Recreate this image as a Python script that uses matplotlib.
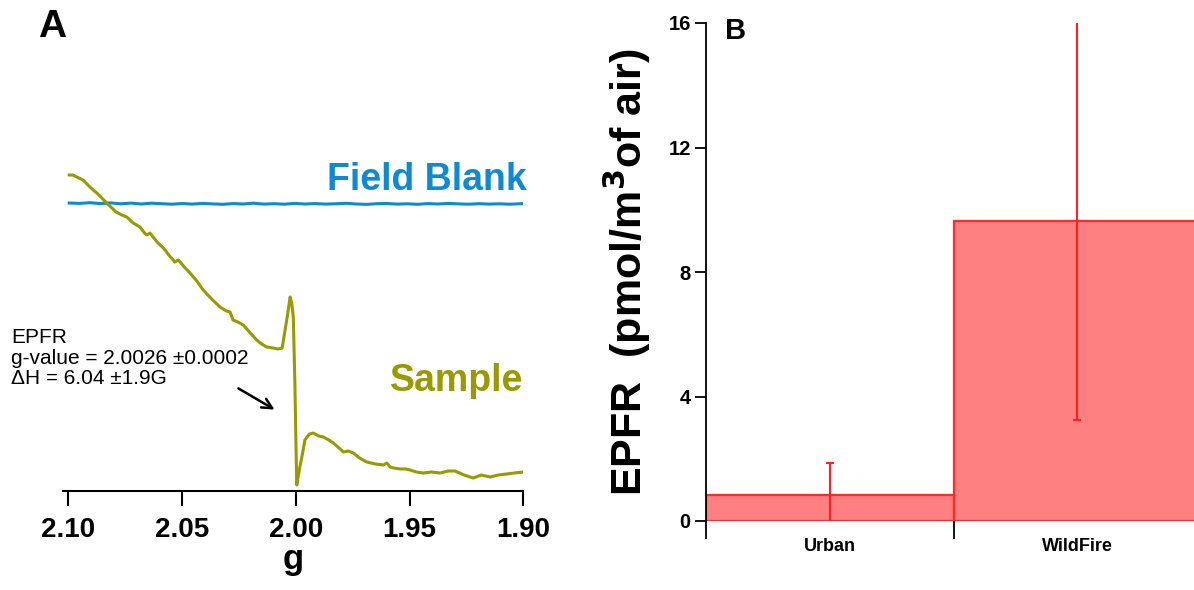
import numpy as np
import matplotlib.pyplot as plt
from matplotlib.ticker import FixedLocator

plt.rcParams['font.family'] = ['Liberation Sans', 'DejaVu Sans']

# panel A: EPR spectra (arbitrary intensity units)
sample_g = [2.0996, 2.0980, 2.0963, 2.0935, 2.0905, 2.0870, 2.0831, 2.0790, 2.0765,
            2.0743, 2.0715, 2.0685, 2.0665, 2.0655, 2.0641, 2.0610, 2.0582, 2.0555,
            2.0531, 2.0516, 2.0490, 2.0465, 2.0435, 2.0407, 2.0370, 2.0333, 2.0305,
            2.0289, 2.0276, 2.0255, 2.0231, 2.0200, 2.0172, 2.0150, 2.0128, 2.0100,
            2.0077, 2.0060, 2.0047, 2.0035, 2.0025, 2.0018, 2.0011, 2.0004, 1.9996,
            1.9989, 1.9982, 1.9970, 1.9960, 1.9940, 1.9923, 1.9900, 1.9879, 1.9855,
            1.9835, 1.9810, 1.9791, 1.9770, 1.9747, 1.9720, 1.9688, 1.9650, 1.9615,
            1.9600, 1.9585, 1.9571, 1.9540, 1.9515, 1.9498, 1.9470, 1.9440, 1.9405,
            1.9366, 1.9330, 1.9300, 1.9260, 1.9220, 1.9185, 1.9146, 1.9110, 1.9073,
            1.9040, 1.9000]
sample_i = [316, 316, 314, 311, 304, 297, 288, 279, 276,
            274, 268, 264, 258, 256, 258, 249, 243, 235,
            229, 231, 224, 218, 210, 201, 192, 184, 180,
            179, 171, 169, 166, 158, 151, 147, 144, 143,
            142, 143, 161, 178, 194, 188, 174, 108, 6,
            15, 24, 38, 51, 57, 58, 55, 54, 51,
            48, 43, 39, 40, 38, 33, 29, 27, 26,
            28, 24, 23, 22, 22, 21, 19, 18, 19,
            18, 20, 20, 16, 13, 16, 14, 16, 17,
            18, 19]

blank_g = [2.0996, 2.0950, 2.0905, 2.0860, 2.0815, 2.0770, 2.0725, 2.0680, 2.0635,
           2.0590, 2.0545, 2.0500, 2.0455, 2.0410, 2.0365, 2.0320, 2.0275, 2.0230,
           2.0185, 2.0140, 2.0095, 2.0050, 2.0005, 1.9960, 1.9915, 1.9870, 1.9825,
           1.9780, 1.9735, 1.9690, 1.9645, 1.9600, 1.9555, 1.9510, 1.9465, 1.9420,
           1.9375, 1.9330, 1.9285, 1.9240, 1.9195, 1.9150, 1.9105, 1.9060, 1.9000]
blank_i = [288.0, 287.6, 288.3, 287.4, 288.1, 287.2, 287.9, 287.0, 287.8,
           287.3, 286.8, 287.5, 286.9, 287.6, 287.1, 286.7, 287.4, 287.0,
           287.8, 286.9, 287.3, 286.8, 287.6, 287.0, 287.4, 286.9, 287.2,
           287.7, 287.0, 286.6, 287.3, 287.5, 286.9, 287.2, 286.7, 287.4,
           287.0, 287.6, 287.1, 286.8, 287.3, 286.9, 287.2, 286.8, 287.4]

# panel B: bar chart
categories = ['Urban', 'WildFire']
epfr_mean = [0.85, 9.65]
epfr_err = [1.0, 6.4]

OLIVE = '#999900'
BLUE = '#0e8ad2'

fig = plt.figure(figsize=(11.94, 5.90), dpi=100)
W, H = 1194, 590

# ---- panel A
axA = fig.add_axes([62.7 / W, (H - 491) / H, (523.3 - 62.7) / W, (491 - 150) / H])
axA.plot(blank_g, blank_i, color=BLUE, lw=2.2)
axA.plot(sample_g, sample_i, color=OLIVE, lw=2.2)
axA.set_xlim(2.10246, 1.90)
axA.set_ylim(0, 341)
for s in ['top', 'right', 'left']:
    axA.spines[s].set_visible(False)
axA.spines['bottom'].set_linewidth(1.5)
axA.set_yticks([])
axA.set_xticks([2.10, 2.05, 2.00, 1.95, 1.90])
axA.set_xticklabels(['2.10', '2.05', '2.00', '1.95', '1.90'])
axA.tick_params(axis='x', direction='out', length=11, width=1.5, pad=8,
                labelsize=20)
for lab in axA.get_xticklabels():
    lab.set_fontweight('bold')
axA.set_xlabel('g', fontsize=25, fontweight='bold', labelpad=0)
axA.text(1.8987, 311, 'Field Blank', color=BLUE, fontsize=27, fontweight='bold',
         ha='right', va='center')
axA.text(1.9002, 110, 'Sample', color=OLIVE, fontsize=27, fontweight='bold',
         ha='right', va='center')
fig.text(11 / W, (H - 358) / H, 'EPFR\ng-value = 2.0026 \u00b10.0002\n\u0394H = 6.04 \u00b11.9G',
         fontsize=15, va='center', ha='left', linespacing=1.12)
axA.annotate('', xy=(277 / W, (H - 411) / H), xytext=(236 / W, (H - 387) / H),
             xycoords='figure fraction', textcoords='figure fraction',
             arrowprops=dict(arrowstyle='->', color='black', lw=1.8,
                             mutation_scale=18))
fig.text(52 / W, (H - 27) / H, 'A', fontsize=28, fontweight='bold',
         ha='center', va='center')

# ---- panel B
axB = fig.add_axes([706 / W, (H - 521) / H, (1201 - 706) / W, (521 - 23) / H])
x = np.arange(len(categories)) + 0.5
axB.bar(x, epfr_mean, width=1.0, color='#ff8080', edgecolor='#ff2a2a',
        linewidth=1.6, zorder=2)
axB.errorbar(x, epfr_mean, yerr=epfr_err, fmt='none', ecolor='#ff2020',
             elinewidth=1.5, capsize=3, capthick=1.5, zorder=3)
axB.set_xlim(0, 2)
axB.set_ylim(0, 16)
for s in ['top', 'right', 'bottom']:
    axB.spines[s].set_visible(False)
axB.spines['left'].set_linewidth(1.3)
axB.set_yticks([0, 4, 8, 12, 16])
axB.tick_params(axis='y', direction='out', length=8, width=1.3, pad=3,
                labelsize=14.5)
axB.xaxis.set_major_locator(FixedLocator([0, 1]))
axB.xaxis.set_minor_locator(FixedLocator(list(x)))
axB.set_xticklabels(['', ''])
axB.set_xticklabels(categories, minor=True)
axB.tick_params(axis='x', which='major', direction='out', length=13, width=1.3)
axB.tick_params(axis='x', which='minor', length=0, pad=12, labelsize=13)
for lab in axB.get_yticklabels() + axB.get_xticklabels(minor=True):
    lab.set_fontweight('bold')
axB.set_ylabel('EPFR  (pmol/m$^{\\mathbf{3}}$of air)', fontsize=31,
               fontweight='bold', labelpad=11)
fig.text(736 / W, (H - 31) / H, 'B', fontsize=21, fontweight='bold',
         ha='center', va='center')

fig.savefig('out.png', dpi=100)
